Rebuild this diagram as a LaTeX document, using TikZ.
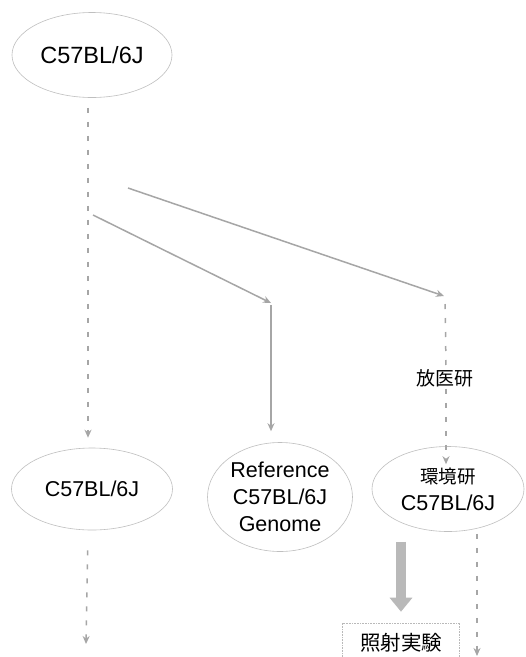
\documentclass[tikz,border=0pt]{standalone}
\usepackage{fontspec}
\setmainfont{Liberation Sans}
\newfontfamily\cjk{Noto Sans CJK JP}
\usetikzlibrary{shapes.geometric,arrows.meta}
\tikzset{
  oval/.style={ellipse, draw=gray!50, line width=0.6pt, inner sep=0pt, align=center, font=\fontsize{21.5}{27}\selectfont},
  tiparrow/.style={-{Stealth[length=8pt,width=7pt]}},
  solidlink/.style={tiparrow, draw=gray!70, line width=1.5pt},
  dashlink/.style={tiparrow, draw=gray!70, line width=1.5pt, dash pattern=on 5pt off 9pt},
  blockarrow/.style={draw=gray!55, line width=10pt, -{Triangle[length=14pt,width=22pt]}},
  label/.style={font=\cjk\fontsize{19}{22}\selectfont, inner sep=2pt, fill=white},
  frame/.style={draw=gray!55, line width=0.6pt, densely dotted, minimum width=117pt, minimum height=40pt, inner sep=0pt, font=\cjk\fontsize{20.5}{22}\selectfont}
}
\begin{document}
\begin{tikzpicture}[x=1pt,y=-1pt]
\clip (0,0) rectangle (526,657);
\fill[white] (0,0) rectangle (526,657);
% nodes
\node[oval, minimum width=160pt, minimum height=85pt, font=\fontsize{23.5}{28}\selectfont] (top) at (92,55) {C57BL/6J};
\node[oval, minimum width=161pt, minimum height=82pt] (left) at (92,489) {C57BL/6J};
\node[oval, minimum width=145pt, minimum height=109pt] (ref) at (280,497) {Reference\\C57BL/6J\\Genome};
\node[oval, minimum width=152pt, minimum height=85pt] (kk) at (448,489) {{\cjk\fontsize{18.5}{22}\selectfont 環境研}\\C57BL/6J};
\node[label] (fy) at (445,378) {放医研};
\node[frame] (box) at (401,643) {照射実験};
% free ends
\coordinate (d1) at (128,188);
\coordinate (r1) at (444,296);
\coordinate (d2) at (93,215);
\coordinate (r2) at (271,303);
\coordinate (e1) at (86,644);
\coordinate (e2) at (477,656);
% connectors
\draw[dashlink, shorten <=10pt, shorten >=10pt] ([xshift=-4pt]top.south) -- ([xshift=-4pt]left.north);
\draw[solidlink] (d1) -- (r1);
\draw[solidlink] (d2) -- (r2);
\draw[dashlink, -, shorten <=8pt] ([xshift=1pt]r1) -- ([xshift=1pt]fy.north);
\draw[dashlink] ([xshift=1pt]fy.south) -- ([xshift=-2pt,yshift=-18pt]kk.north);
\draw[solidlink, shorten <=2pt, shorten >=11pt] (r2) -- (r2 |- ref.north);
\draw[dashlink, shorten <=20pt] ([xshift=-4pt]left.south) -- (e1);
\draw[dashlink, shorten <=2pt] (kk.south -| e2) -- (e2);
\draw[blockarrow, shorten <=10pt, shorten >=11pt] (kk.south -| box.north) -- (box.north);
\end{tikzpicture}
\end{document}
